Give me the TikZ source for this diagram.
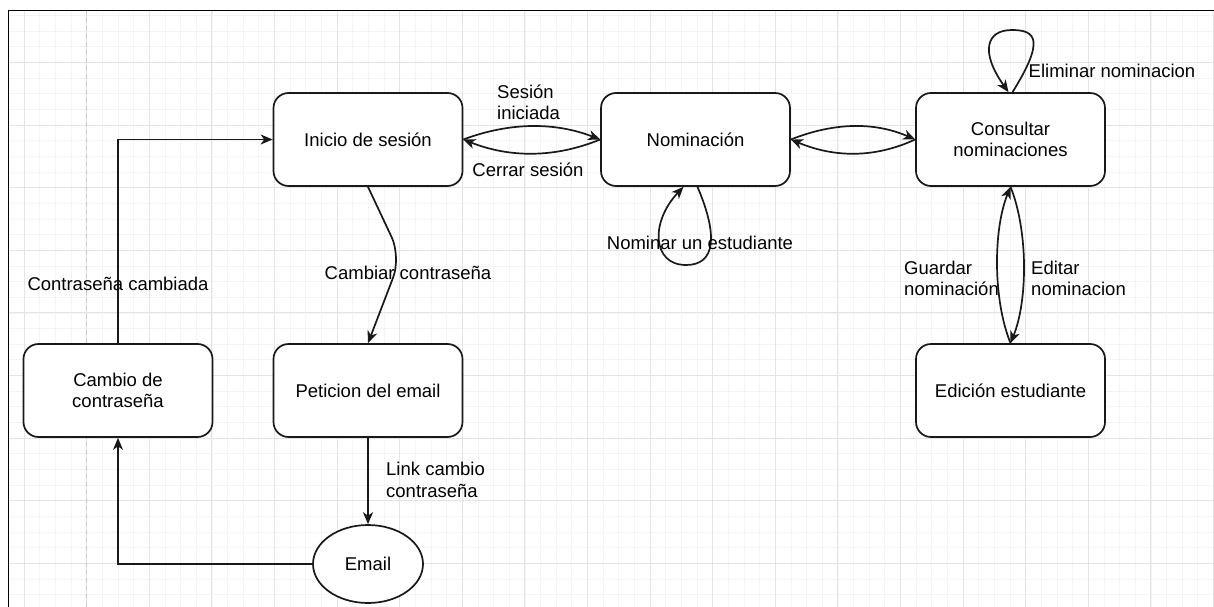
\documentclass[tikz,border=0pt]{standalone}
\usepackage{fontspec}
\setmainfont{Liberation Sans}
\usetikzlibrary{arrows.meta,shapes.geometric,calc}
\newcommand\diagfont{\fontsize{18.5}{21.5}\selectfont}
\definecolor{gridminor}{RGB}{244,244,244}
\definecolor{gridmajor}{RGB}{228,228,228}
\definecolor{dashgrey}{RGB}{200,200,200}
\definecolor{ink}{RGB}{25,25,25}
\begin{document}
\begin{tikzpicture}[x=1pt,y=-1pt,
  box/.style={draw=ink, line width=1.7pt, rounded corners=15pt, fill=white,
    minimum width=189pt, minimum height=93pt, inner sep=0pt, align=center, font=\diagfont},
  oval/.style={draw=ink, ellipse, line width=1.7pt, fill=white,
    minimum width=110pt, minimum height=78pt, inner sep=0pt, font=\diagfont},
  lbl/.style={font=\diagfont, inner sep=0pt, align=left},
  edge/.style={draw=ink, line width=1.7pt, -{Stealth[length=12pt,width=10pt,inset=3.5pt]}},
  minorline/.style={draw=gridminor, line width=0.6pt},
  majorline/.style={draw=gridmajor, line width=0.8pt}
]
\useasboundingbox (0,0) rectangle (1214,607);
\fill[white] (0,0) rectangle (1214,607);
% grid
\begin{scope}
\clip (8,10) rectangle (1214,607);
\foreach \i in {-1,...,76} \draw[minorline] ({24+\i*15.65},10) -- ({24+\i*15.65},607);
\foreach \i in {-4,...,35} \draw[minorline] (8,{62.4+\i*15.65}) -- (1214,{62.4+\i*15.65});
\foreach \i in {0,...,19} \draw[majorline] ({24+\i*62.6},10) -- ({24+\i*62.6},607);
\foreach \i in {-1,...,8} \draw[majorline] (8,{62.4+\i*62.6}) -- (1214,{62.4+\i*62.6});
\end{scope}
\draw[dashgrey, line width=1pt, dash pattern=on 5pt off 3pt] (86.5,10) -- (86.5,607);
\draw[line width=1.2pt] (1214,10.5) -- (8.5,10.5) -- (8.5,607);

% nodes
\node[box] (inicio) at (368,139.5) {Inicio de sesión};
\node[box] (nom) at (695.5,139.5) {Nominación};
\node[box] (cons) at (1010.5,139.5) {Consultar\\nominaciones};
\node[box] (cambio) at (118,390.5) {Cambio de\\contraseña};
\node[box] (pet) at (368,390.5) {Peticion del email};
\node[box] (edic) at (1010.5,390.5) {Edición estudiante};
\node[oval] (email) at (368,564) {Email};

% edges
\draw[edge] (cambio.north) |- (inicio.west);
\draw[edge] (email.west) -| (cambio.south);
\draw[edge, rounded corners=22pt] (inicio.south) -- (401,257) -- (pet.north);
\draw[edge] (pet.south) -- (email.north);
\draw[edge] (inicio.east) .. controls (510,122) and (555,122) .. (nom.west);
\draw[edge] (nom.west) .. controls (555,158) and (510,158) .. (inicio.east);
\draw[edge] (nom.east) .. controls (835,122) and (875,122) .. (cons.west);
\draw[edge] (cons.west) .. controls (875,158) and (835,158) .. (nom.east);
\draw[edge] ([xshift=2pt]nom.south) .. controls (718,235) and (716,265) .. (686,265)
  .. controls (652,265) and (650,222) .. ([xshift=-12pt]nom.south);
\draw[edge] ([xshift=2pt]cons.north) .. controls (1045,40) and (1036,30) .. (1012,30)
  .. controls (986,30) and (980,52) .. ([xshift=-2pt]cons.north);
\draw[edge] (cons.south) .. controls (1028,230) and (1028,300) .. (edic.north);
\draw[edge] (edic.north) .. controls (993,300) and (993,230) .. (cons.south);

% labels
\node[lbl] (lcc) at (118,284) {Contraseña cambiada};
\node[lbl] (lcambiar) at (408,273) {Cambiar contraseña};
\node[lbl, anchor=west] (llink) at (386,480) {Link cambio\\contraseña};
\node[lbl, anchor=west] (lsesion) at (497,102.5) {Sesión\\iniciada};
\node[lbl] (lcerrar) at (528,170) {Cerrar sesión};
\node[lbl] (lnominar) at (700,243) {Nominar un estudiante};
\node[lbl] (leliminar) at (1112,71) {Eliminar nominacion};
\node[lbl, anchor=west] (lguardar) at (904,278.5) {Guardar\\nominación};
\node[lbl, anchor=west] (leditar) at (1031,278.5) {Editar\\nominacion};
\end{tikzpicture}
\end{document}
